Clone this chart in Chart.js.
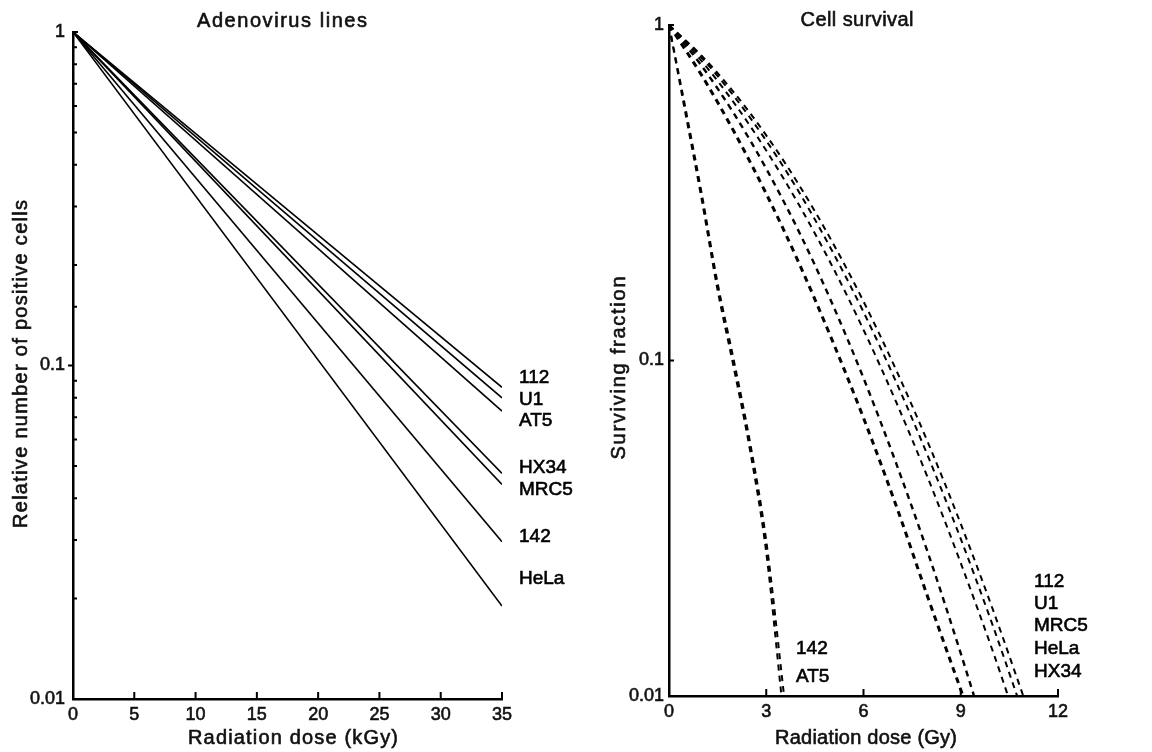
<!DOCTYPE html>
<html>
<head>
<meta charset="utf-8">
<script src="https://cdn.jsdelivr.net/npm/chart.js@4.4.1/dist/chart.umd.min.js"></script>
<style>
html, body { margin: 0; padding: 0; background: #fff; }
#wrap { position: relative; width: 1152px; height: 752px; overflow: hidden; }
#left { position: absolute; left: 0; top: 0; }
#right { position: absolute; left: 570px; top: 0; }
</style>
</head>
<body>
<div id="wrap">
  <canvas id="left" width="600" height="752"></canvas>
  <canvas id="right" width="582" height="752"></canvas>
</div>
<script>
// ---- left panel: adenovirus lines (dose in kGy) ----
const adenoDoses = [0, 35];
const adeno112  = [1, 0.086];
const adenoU1   = [1, 0.080];
const adenoAT5  = [1, 0.073];
const adenoHX34 = [1, 0.0475];
const adenoMRC5 = [1, 0.044];
const adeno142  = [1, 0.0296];
const adenoHeLa = [1, 0.019];
const adenoNames = ['112', 'U1', 'AT5', 'HX34', 'MRC5', '142', 'HeLa'];

// ---- right panel: cell survival (dose in Gy) ----
const survDoses112  = [0, 1, 2, 3, 4, 5, 6, 7, 8, 9, 10, 10.93];
const surv112       = [1, 0.811, 0.630, 0.469, 0.335, 0.229, 0.150, 0.094, 0.0566, 0.0326, 0.018, 0.01];
const survDosesU1   = [0, 1, 2, 3, 4, 5, 6, 7, 8, 9, 10, 10.74];
const survU1        = [1, 0.80, 0.614, 0.452, 0.319, 0.215, 0.1395, 0.0866, 0.0515, 0.0294, 0.0161, 0.01];
const survDosesMRC5 = [0, 1, 2, 3, 4, 5, 6, 7, 8, 9, 10, 10.46];
const survMRC5      = [1, 0.782, 0.587, 0.4225, 0.292, 0.194, 0.1235, 0.0755, 0.0443, 0.0249, 0.0135, 0.01];
const survDosesHeLa = [0, 1, 2, 3, 4, 5, 6, 7, 8, 9, 9.41];
const survHeLa      = [1, 0.757, 0.545, 0.373, 0.243, 0.1505, 0.0886, 0.0496, 0.0265, 0.0134, 0.01];
const survDosesHX34 = [0, 1, 2, 3, 4, 5, 6, 7, 8, 9.07];
const survHX34      = [1, 0.71, 0.482, 0.314, 0.196, 0.117, 0.0674, 0.0371, 0.0195, 0.01];
const survDoses142  = [0, 0.5, 1, 1.5, 2, 2.5, 3, 3.47];
const surv142       = [1, 0.55, 0.305, 0.162, 0.095, 0.054, 0.0268, 0.01];
const survDosesAT5  = [0, 0.5, 1, 1.5, 2, 2.5, 3, 3.55];
const survAT5       = [1, 0.57, 0.318, 0.17, 0.1, 0.057, 0.029, 0.01];
const survNames = ['112', 'U1', 'MRC5', 'HeLa', 'HX34'];
const survNamesLow = ['142', 'AT5'];

const FONT = '"Liberation Sans", Arial, sans-serif';
Chart.defaults.font.family = FONT;
Chart.defaults.font.size = 18;
Chart.defaults.color = '#111';

function pts(xs, ys) {
  return xs.map((x, i) => ({ x: x, y: ys[i] }));
}

function isDecade(v) {
  const l = Math.log10(v);
  return Math.abs(l - Math.round(l)) < 1e-6;
}

// text drawn with a hairline stroke so it looks like the heavier print face
function spacedText(ctx, text, x, y, width, rot) {
  ctx.save();
  ctx.translate(x, y);
  if (rot) ctx.rotate(rot);
  ctx.letterSpacing = '0px';
  const w = ctx.measureText(text).width;
  const sp = Math.max(0, (width - w) / (text.length - 1));
  ctx.letterSpacing = sp + 'px';
  ctx.textAlign = 'center';
  ctx.textBaseline = 'middle';
  ctx.fillText(text, sp / 2, 0);
  ctx.strokeText(text, sp / 2, 0);
  ctx.restore();
}

function decor(opts) {
  return {
    id: 'decor',
    afterDraw(chart) {
      const ctx = chart.ctx, xs = chart.scales.x, ys = chart.scales.y, a = chart.chartArea;
      ctx.save();
      ctx.strokeStyle = '#000';
      ctx.lineWidth = 2;
      ctx.beginPath();
      // x ticks point up into the plot
      xs.ticks.forEach(t => {
        if (t.value === 0) return;
        const px = xs.getPixelForValue(t.value);
        ctx.moveTo(px, a.bottom);
        ctx.lineTo(px, a.bottom - 7);
      });
      // y ticks
      ys.ticks.forEach(t => {
        const py = ys.getPixelForValue(t.value);
        if (isDecade(t.value)) {
          if (t.value === 0.01) return;
          if (opts.majorOut && t.value !== 1) {
            ctx.moveTo(a.left, py); ctx.lineTo(a.left - 5, py);
          } else {
            ctx.moveTo(a.left, py); ctx.lineTo(a.left + 5, py);
          }
        } else if (opts.minor) {
          ctx.moveTo(a.left, py); ctx.lineTo(a.left + 4, py);
        }
      });
      ctx.stroke();

      ctx.fillStyle = '#111';
      ctx.strokeStyle = '#111';
      ctx.lineWidth = 0.6;
      ctx.font = '20px ' + FONT;
      opts.texts.forEach(t => spacedText(ctx, t.text, t.x, t.y, t.w, t.rot));

      ctx.font = '19px ' + FONT;
      ctx.fillStyle = '#000';
      ctx.strokeStyle = '#000';
      ctx.textAlign = 'left';
      ctx.textBaseline = 'middle';
      opts.labels.forEach(l => {
        ctx.fillText(l.text, l.x, l.y);
        ctx.strokeText(l.text, l.x, l.y);
      });
      ctx.restore();
    }
  };
}

function axes(xMin, xMax, xStep, yWidth, xHeight, yPad) {
  const tickFont = { size: 18 };
  return {
    x: {
      type: 'linear', min: xMin, max: xMax,
      grid: { display: false, drawTicks: false },
      border: { display: true, color: '#000', width: 2.5 },
      ticks: { stepSize: xStep, padding: 5, color: '#111', font: tickFont,
               textStrokeColor: '#111', textStrokeWidth: 0.6 },
      afterFit(s) { s.height = xHeight; }
    },
    y: {
      type: 'logarithmic', min: 0.01, max: 1,
      grid: { display: false, drawTicks: false },
      border: { display: true, color: '#000', width: 2.5 },
      ticks: {
        autoSkip: false, padding: yPad, color: '#111', font: tickFont,
        textStrokeColor: '#111', textStrokeWidth: 0.6,
        callback: v => isDecade(v) ? String(+v.toPrecision(3)) : ''
      },
      afterFit(s) { s.width = yWidth; }
    }
  };
}

// left chart
const adenoSeries = [adeno112, adenoU1, adenoAT5, adenoHX34, adenoMRC5, adeno142, adenoHeLa];
const leftLabelY = [378, 400, 421, 468, 490, 537, 579];

new Chart(document.getElementById('left'), {
  type: 'line',
  data: {
    datasets: adenoSeries.map((s, i) => ({
      label: adenoNames[i],
      data: pts(adenoDoses, s),
      borderColor: '#000',
      borderWidth: 1.6,
      pointRadius: 0,
      fill: false
    }))
  },
  options: {
    responsive: false,
    animation: false,
    layout: { padding: { left: 0, top: 32, right: 98, bottom: 0 } },
    plugins: { legend: { display: false }, tooltip: { enabled: false } },
    scales: axes(0, 35, 5, 73, 53, 8)
  },
  plugins: [decor({
    minor: true,
    majorOut: true,
    texts: [
      { text: 'Adenovirus lines', x: 282, y: 21, w: 170 },
      { text: 'Radiation dose (kGy)', x: 293, y: 738, w: 210 },
      { text: 'Relative number of positive cells', x: 21, y: 364, w: 328, rot: -Math.PI / 2 }
    ],
    labels: adenoNames.map((n, i) => ({ text: n, x: 519, y: leftLabelY[i] }))
  })]
});

// right chart
const survSets = [
  { name: '112',  d: survDoses112,  v: surv112,  w: 2 },
  { name: 'U1',   d: survDosesU1,   v: survU1,   w: 2 },
  { name: 'MRC5', d: survDosesMRC5, v: survMRC5, w: 2 },
  { name: 'HeLa', d: survDosesHeLa, v: survHeLa, w: 2.4 },
  { name: 'HX34', d: survDosesHX34, v: survHX34, w: 3 },
  { name: '142',  d: survDoses142,  v: surv142,  w: 2 },
  { name: 'AT5',  d: survDosesAT5,  v: survAT5,  w: 2 }
];
const rightLabelY = [582, 604, 626, 649, 672];
const rightLowLabelY = [649, 677];

new Chart(document.getElementById('right'), {
  type: 'line',
  data: {
    datasets: survSets.map(s => ({
      label: s.name,
      data: pts(s.d, s.v),
      borderColor: '#000',
      borderWidth: s.w,
      borderDash: [6, 5],
      cubicInterpolationMode: 'monotone',
      pointRadius: 0,
      fill: false
    }))
  },
  options: {
    responsive: false,
    animation: false,
    layout: { padding: { left: 0, top: 25, right: 94, bottom: 0 } },
    plugins: { legend: { display: false }, tooltip: { enabled: false } },
    scales: axes(0, 12, 3, 99, 56, 5)
  },
  plugins: [decor({
    minor: false,
    majorOut: false,
    texts: [
      { text: 'Cell survival', x: 287, y: 20, w: 113 },
      { text: 'Radiation dose (Gy)', x: 296, y: 738, w: 182 },
      { text: 'Surviving fraction', x: 49, y: 368, w: 183, rot: -Math.PI / 2 }
    ],
    labels: survNames.map((n, i) => ({ text: n, x: 464, y: rightLabelY[i] }))
      .concat(survNamesLow.map((n, i) => ({ text: n, x: 226, y: rightLowLabelY[i] })))
  })]
});
</script>
</body>
</html>
